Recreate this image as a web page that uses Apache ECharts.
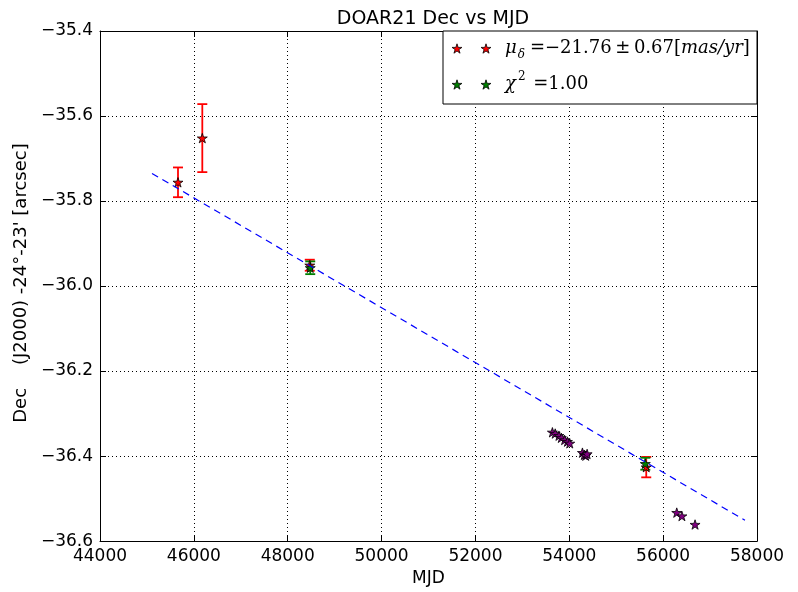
<!DOCTYPE html>
<html lang="en">
<head>
    <meta charset="UTF-8">
    <title>DOAR21 Dec vs MJD</title>
    <style>
        body { margin: 0; background: #fff; }
        #box { width: 798px; height: 592px; }
    </style>
</head>
<body>
    <div id="box"></div>
</body>
<script src="https://cdn.jsdelivr.net/npm/echarts@6/dist/echarts.min.js"></script>
<script>
    // points with red error bars: [MJD, Dec, err]
    var redPts = [
        [45662, -35.756, 0.035],
        [46180, -35.652, 0.080],
        [48470, -35.951, 0.013],
        [55640, -36.426, 0.024]
    ];
    // points with green error bars
    var greenPts = [
        [48480, -35.957, 0.015],
        [55620, -36.418, 0.014]
    ];
    // purple points (error bars hidden under the marker)
    var purplePts = [
        [53640, -36.344], [53700, -36.347], [53780, -36.352], [53830, -36.357],
        [53900, -36.362], [53960, -36.366], [54010, -36.370],
        [54280, -36.392], [54320, -36.397], [54350, -36.399], [54380, -36.395],
        [56290, -36.533], [56400, -36.541], [56680, -36.561]
    ];
    // fitted line end points
    var fitLine = [[45108, -35.735], [57744, -36.551]];
    var xTicks = { min: 44000, max: 58000, step: 2000 };
    var yTicks = { min: -36.6, max: -35.4, step: 0.2 };

    var star = 'path://M100,0 L122.45,69.1 L195.1,69.1 L136.33,111.8 L158.8,180.9 L100,138.2 L41.2,180.9 L63.67,111.8 L4.9,69.1 L77.55,69.1 Z';
    var font = 'DejaVu Sans';

    // star outline for legend markers
    function starPts(cx, cy, r) {
        var pts = [];
        for (var i = 0; i < 10; i++) {
            var a = i * Math.PI / 5;
            var rr = i % 2 ? r * 0.382 : r;
            pts.push([cx + rr * Math.sin(a), cy - rr * Math.cos(a)]);
        }
        return pts;
    }
    function legendStar(cx, cy, color) {
        return {
            type: 'polygon', z: 11,
            shape: { points: starPts(cx, cy, 5.2) },
            style: { fill: color, stroke: '#000', lineWidth: 0.8 }
        };
    }

    function errBars(color) {
        return function (params, api) {
            var x = api.value(0), y = api.value(1), e = api.value(2);
            var top = api.coord([x, y + e]);
            var bot = api.coord([x, y - e]);
            var st = { stroke: color, lineWidth: 1.8 };
            return {
                type: 'group',
                children: [
                    { type: 'line', shape: { x1: top[0], y1: top[1], x2: bot[0], y2: bot[1] }, style: st },
                    { type: 'line', shape: { x1: top[0] - 5, y1: top[1], x2: top[0] + 5, y2: top[1] }, style: st },
                    { type: 'line', shape: { x1: bot[0] - 5, y1: bot[1], x2: bot[0] + 5, y2: bot[1] }, style: st }
                ]
            };
        };
    }

    function fmtY(v) { return v.toFixed(1).replace('-', '\u2212'); }
    function fmtX(v) { return String(v); }

    var box = echarts.init(document.getElementById('box'));
    var axisLine = { show: true, lineStyle: { color: '#000', width: 1 } };
    var tick = { show: true, inside: true, length: 6, lineStyle: { color: '#000' } };
    var grid = { show: true, lineStyle: { color: '#000', width: 1, type: [1, 3] } };

    var option = {
        backgroundColor: '#fff',
        animation: false,
        title: {
            text: 'DOAR21 Dec vs MJD',
            left: 428, top: 5, textAlign: 'center',
            textStyle: { fontFamily: font, fontSize: 19, fontWeight: 'normal', color: '#000' }
        },
        grid: { left: 100, right: 41, top: 31, bottom: 46 },
        xAxis: [{
            type: 'value', min: xTicks.min, max: xTicks.max, interval: xTicks.step,
            name: 'MJD', nameLocation: 'middle', nameGap: 27,
            nameTextStyle: { fontFamily: font, fontSize: 17, color: '#000' },
            axisLine: axisLine, axisTick: tick, splitLine: grid,
            axisLabel: { fontFamily: font, fontSize: 17, color: '#000', margin: 7, formatter: fmtX }
        }, {
            type: 'value', position: 'top', min: xTicks.min, max: xTicks.max, interval: xTicks.step,
            axisLine: axisLine, axisTick: tick, splitLine: { show: false }, axisLabel: { show: false }
        }],
        yAxis: [{
            type: 'value', min: yTicks.min, max: yTicks.max, interval: yTicks.step,
            name: "Dec    (J2000) -24\u00b0-23' [arcsec]", nameLocation: 'middle', nameGap: 61,
            nameTextStyle: { fontFamily: font, fontSize: 18, color: '#000', padding: [0, 0, 0, 6] },
            axisLine: axisLine, axisTick: tick, splitLine: grid,
            axisLabel: { fontFamily: font, fontSize: 17, color: '#000', margin: 7, formatter: fmtY }
        }, {
            type: 'value', position: 'right', min: yTicks.min, max: yTicks.max, interval: yTicks.step,
            axisLine: axisLine, axisTick: tick, splitLine: { show: false }, axisLabel: { show: false }
        }],
        graphic: [{
            type: 'rect', z: 10,
            shape: { x: 443, y: 31, width: 314, height: 73 },
            style: { fill: '#fff', stroke: '#000', lineWidth: 1 }
        },
            legendStar(457, 49, '#ff0000'),
            legendStar(486, 49, '#ff0000'),
            legendStar(457, 85, '#008000'),
            legendStar(486, 85, '#008000'),
        {
            type: 'text', x: 505, y: 35, z: 11,
            style: {
                text: '{i|\u03bc}{sub|\u03b4}{n|=\u221221.76\u2009\u00b1\u20090.67[}{i|mas/yr}{n|]}',
                rich: {
                    i: { fontFamily: 'DejaVu Serif', fontStyle: 'italic', fontSize: 18, lineHeight: 26, verticalAlign: 'middle' },
                    n: { fontFamily: 'DejaVu Serif', fontSize: 18, lineHeight: 26, verticalAlign: 'middle' },
                    sub: { fontFamily: 'DejaVu Serif', fontStyle: 'italic', fontSize: 12, lineHeight: 10, verticalAlign: 'bottom', padding: [0, 5, 0, 1] }
                }
            }
        }, {
            type: 'text', x: 505, y: 71, z: 11,
            style: {
                text: '{i|\u03c7}{sup|2}{n| =1.00}',
                rich: {
                    i: { fontFamily: 'DejaVu Serif', fontStyle: 'italic', fontSize: 18, lineHeight: 26, verticalAlign: 'middle' },
                    n: { fontFamily: 'DejaVu Serif', fontSize: 18, lineHeight: 26, verticalAlign: 'middle' },
                    sup: { fontFamily: 'DejaVu Serif', fontSize: 12, lineHeight: 12, verticalAlign: 'top', padding: [0, 2, 0, 2] }
                }
            }
        }],
        series: [{
            type: 'custom', renderItem: errBars('#ff0000'), data: redPts, z: 2,
            encode: { x: 0, y: 1 }
        }, {
            type: 'custom', renderItem: errBars('#008000'), data: greenPts, z: 2,
            encode: { x: 0, y: 1 }
        }, {
            type: 'scatter', data: redPts.map(function (p) { return [p[0], p[1]]; }), z: 3,
            symbol: star, symbolSize: [10, 9.5],
            itemStyle: { color: '#ff0000', borderColor: '#000', borderWidth: 0.8, opacity: 1 }
        }, {
            type: 'scatter', data: greenPts.map(function (p) { return [p[0], p[1]]; }), z: 3,
            symbol: star, symbolSize: [10, 9.5],
            itemStyle: { color: '#008000', borderColor: '#000', borderWidth: 0.8, opacity: 1 }
        }, {
            type: 'scatter', data: purplePts, z: 3,
            symbol: star, symbolSize: [10, 9.5],
            itemStyle: { color: '#800080', borderColor: '#000', borderWidth: 0.8, opacity: 1 }
        }, {
            type: 'line', data: fitLine, z: 4, symbol: 'none',
            lineStyle: { color: '#0000ff', width: 1.2, type: [7, 5] }
        }]
    };
    box.setOption(option);
</script>
</html>
